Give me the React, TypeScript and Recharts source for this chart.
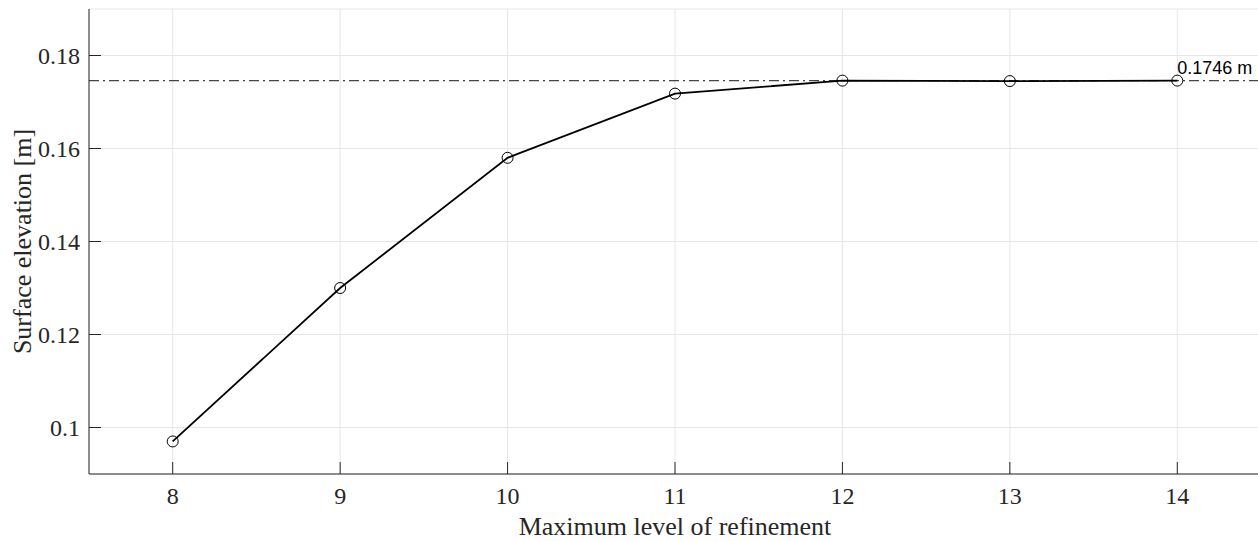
import {
  LineChart, Line, XAxis, YAxis, CartesianGrid, ReferenceLine, ReferenceDot,
} from "recharts";

// Surface elevation at the probe vs. maximum AMR level
const levels = [8, 9, 10, 11, 12, 13, 14];
const elevation = [0.097, 0.13, 0.158, 0.1718, 0.1746, 0.1745, 0.1746];
const converged = 0.1746;
const convergedLabel = "0.1746 m";

const xTicks = [8, 9, 10, 11, 12, 13, 14];
const yTicks = [0.1, 0.12, 0.14, 0.16, 0.18];

const data = levels.map((level, i) => ({ level, elevation: elevation[i] }));

const INK = "#262626";
const SERIF = "'Liberation Serif', 'Times New Roman', serif";
const SANS = "'Liberation Sans', Arial, sans-serif";

// MATLAB-style box: ticks point inward on all four sides
const BOX = { stroke: INK, tickSize: -12, interval: 0 as const };

function BottomTick({ x, y, payload }: any) {
  return (
    <text x={x} y={y} dy={17} textAnchor="middle" fontSize={24} fontFamily={SERIF} fill={INK}>
      {payload.value}
    </text>
  );
}

function LeftTick({ x, y, payload }: any) {
  return (
    <text x={x} y={y} dy={8} textAnchor="end" fontSize={24} fontFamily={SERIF} fill={INK}>
      {payload.value}
    </text>
  );
}

function ConvergedLabel({ viewBox }: any) {
  if (!viewBox) return null;
  return (
    <text x={viewBox.x} y={viewBox.y - 7} fontSize={18} fontFamily={SANS} fill="#000">
      {convergedLabel}
    </text>
  );
}

export default function App() {
  return (
    <div style={{ position: "fixed", left: 8, top: 8, width: 1250, height: 533, overflow: "hidden", background: "#fff" }}>
      <LineChart width={1253} height={533} data={data} margin={{ top: 1, right: 0, bottom: 0, left: 0 }}>
        <CartesianGrid stroke="#e6e6e6" strokeWidth={1} />
        <XAxis
          dataKey="level"
          type="number"
          domain={[7.5, 14.5]}
          allowDataOverflow
          ticks={xTicks}
          {...BOX}
          tickMargin={25}
          tick={<BottomTick />}
          height={67}
          label={{
            value: "Maximum level of refinement",
            position: "insideBottom",
            offset: 6,
            fill: INK,
            style: { fontSize: 26, fontFamily: SERIF },
          }}
        />
        <XAxis
          xAxisId="top"
          orientation="top"
          type="number"
          domain={[7.5, 14.5]}
          allowDataOverflow
          ticks={xTicks}
          {...BOX}
          tick={false}
          height={0}
        />
        <YAxis
          type="number"
          domain={[0.09, 0.19]}
          allowDataOverflow
          ticks={yTicks}
          {...BOX}
          tickMargin={21}
          tick={<LeftTick />}
          width={81}
          label={{
            value: "Surface elevation [m]",
            angle: -90,
            position: "insideLeft",
            offset: 14,
            fill: INK,
            style: { fontSize: 26, fontFamily: SERIF, textAnchor: "middle" },
          }}
        />
        <YAxis
          yAxisId="right"
          orientation="right"
          type="number"
          domain={[0.09, 0.19]}
          allowDataOverflow
          ticks={yTicks}
          {...BOX}
          tick={false}
          width={0}
        />
        <ReferenceLine y={converged} stroke="#444" strokeWidth={1.2} strokeDasharray="10 4 2 4" />
        <Line
          dataKey="elevation"
          type="linear"
          stroke="#000"
          strokeWidth={1.8}
          dot={{ r: 5.5, stroke: "#000", strokeWidth: 1, fill: "none" }}
          activeDot={false}
          isAnimationActive={false}
        />
        <ReferenceDot x={14} y={converged} r={0} stroke="none" label={<ConvergedLabel />} />
      </LineChart>
    </div>
  );
}
